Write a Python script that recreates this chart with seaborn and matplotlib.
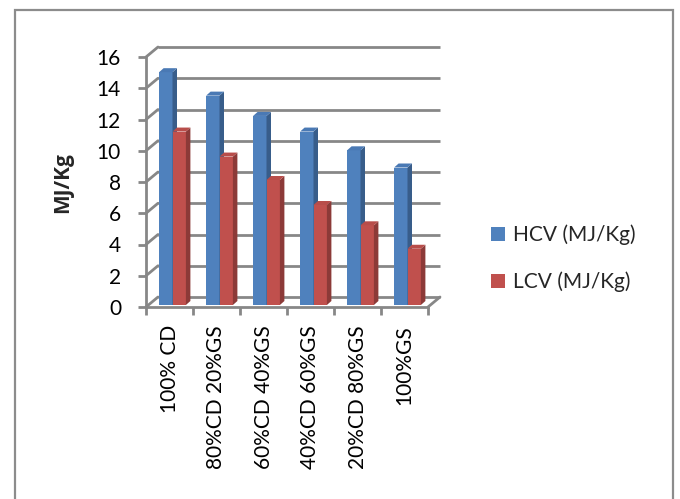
import numpy as np
import pandas as pd
import matplotlib
matplotlib.use("Agg")
import matplotlib.pyplot as plt
import seaborn as sns
from matplotlib.patches import Polygon, Rectangle, Patch
from matplotlib.transforms import ScaledTranslation

# Calorific values of the CD/GS blends
categories = ["100% CD", "80%CD 20%GS", "60%CD 40%GS", "40%CD 60%GS", "20%CD 80%GS", "100%GS"]
hcv = [14.9, 13.4, 12.1, 11.1, 9.9, 8.8]
lcv = [11.1, 9.5, 8.0, 6.4, 5.1, 3.6]
series = ["HCV (MJ/Kg)", "LCV (MJ/Kg)"]
yticks = [0, 2, 4, 6, 8, 10, 12, 14, 16]

front = ["#4F81BD", "#C0504D"]
side = ["#385D8A", "#8C3A38"]
top = ["#4A79B4", "#B84D4A"]
grid = "#878787"

sns.set_theme(style="white")
plt.rcParams["font.family"] = ["Lato", "DejaVu Sans"]

W, H, DPI = 680, 499, 100
fig = plt.figure(figsize=(W / DPI, H / DPI), dpi=DPI)
fig.patch.set_facecolor("white")

# front plane of the plot box, in pixels from the top-left corner
px0, px1, py0, py1 = 146, 428, 307, 57
ax = fig.add_axes([px0 / W, 1 - py0 / H, (px1 - px0) / W, (py0 - py1) / H])
ax.set_facecolor("none")

df = pd.DataFrame({
    "Blend": categories * 2,
    "Value": hcv + lcv,
    "Series": [series[0]] * len(categories) + [series[1]] * len(categories),
})
sns.barplot(data=df, x="Blend", y="Value", hue="Series", palette=front,
            width=0.57, saturation=1, linewidth=0, legend=False, ax=ax)
ax.set_xlim(-0.5, len(categories) - 0.5)
ax.set_ylim(0, 16)

# oblique depth of the chart box and of each column, in pixels
box_dx, box_dy = 12, 10
bar_shift = (3, 2)
bar_dx, bar_dy = 4.5, 4
lw = 2.0

def to_disp(x, y):
    return ax.transData.transform((x, y))

def to_data(p):
    return ax.transData.inverted().transform(p)

# back wall gridlines and left wall diagonals
xl, xr = ax.get_xlim()
for v in yticks:
    a = to_data(to_disp(xl, v) + (box_dx, box_dy))
    b = to_data(to_disp(xr, v) + (box_dx, box_dy))
    ax.plot([a[0], b[0]], [a[1], b[1]], color=grid, lw=lw, zorder=1,
            clip_on=False, solid_capstyle="butt")
    ax.plot([xl, a[0]], [v, a[1]], color=grid, lw=lw, zorder=1, clip_on=False)
c = to_data(to_disp(xr, 0) + (box_dx, box_dy))
ax.plot([xr, c[0]], [0, c[1]], color=grid, lw=lw, zorder=1, clip_on=False)

# 3-D columns: front face shifted into the box, then top and side faces
shift = ScaledTranslation(bar_shift[0] / DPI, bar_shift[1] / DPI, fig.dpi_scale_trans)
bars = list(ax.patches)
n = len(categories)
for i, p in enumerate(bars):
    k = i // n
    p.set_transform(ax.transData + shift)
    p.set_zorder(3 + 0.2 * k)
    x, w, h = p.get_x(), p.get_width(), p.get_height()
    bl = to_disp(x, 0) + bar_shift
    br = to_disp(x + w, 0) + bar_shift
    tl = to_disp(x, h) + bar_shift
    tr = to_disp(x + w, h) + bar_shift
    d = np.array([bar_dx, bar_dy])
    top_face = [to_data(q) for q in (tl, tr, tr + d, tl + d)]
    side_face = [to_data(q) for q in (br, tr, tr + d, br + d)]
    ax.add_patch(Polygon(side_face, closed=True, facecolor=side[k], lw=0,
                         zorder=3.1 + 0.2 * k, clip_on=False))
    ax.add_patch(Polygon(top_face, closed=True, facecolor=top[k], lw=0,
                         zorder=3.1 + 0.2 * k, clip_on=False))

# front axes
for s in ["top", "right"]:
    ax.spines[s].set_visible(False)
for s in ["left", "bottom"]:
    ax.spines[s].set_color(grid)
    ax.spines[s].set_linewidth(lw)
    ax.spines[s].set_zorder(2)

ax.set_yticks(yticks)
ax.set_yticklabels([str(v) for v in yticks], fontsize=15, color="black")
ax.tick_params(axis="y", direction="out", length=6, width=lw, color=grid, pad=12, left=True)
ax.set_xticks(range(n))
ax.set_xticklabels(categories, rotation=90, fontsize=15, color="black", va="top", ha="center")
ax.set_xticks(np.arange(-0.5, n, 1), minor=True)
ax.tick_params(axis="x", which="major", length=0, pad=13)
ax.tick_params(axis="x", which="minor", direction="out", length=6, width=lw, color=grid, bottom=True)
ax.set_xlabel("")
ax.set_ylabel("")
ax.grid(False)

fig.text(63 / W, 1 - 183 / H, "MJ/Kg", rotation=90, ha="center", va="center",
         fontsize=15, fontweight="bold", family=["Open Sans", "DejaVu Sans"])

handles = [Patch(facecolor=c, edgecolor="none") for c in front]
ax.legend(handles, series, loc="center left", bbox_to_anchor=(490.7 / W, 1 - 258.5 / H),
          bbox_transform=fig.transFigure, frameon=False, fontsize=15,
          handlelength=0.67, handleheight=0.67, handletextpad=0.38,
          labelspacing=1.26, borderpad=0, borderaxespad=0)

# chart area border
fig.add_artist(Rectangle((15 / W, -0.05), (673 - 15) / W, 1.05 - 10 / H,
                         transform=fig.transFigure, fill=False,
                         edgecolor="#8C8C8C", lw=1.6))

fig.savefig("out.png", dpi=DPI)
